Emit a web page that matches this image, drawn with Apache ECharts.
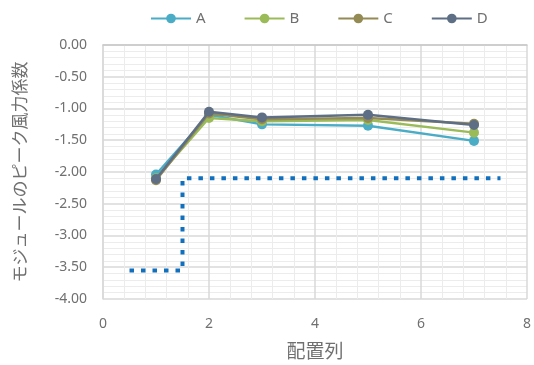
<!DOCTYPE html>
<html><head><meta charset="utf-8">
<script src="https://cdn.jsdelivr.net/npm/echarts@6/dist/echarts.min.js"></script>
<style>html,body{margin:0;padding:0;background:#fff}#c{width:534px;height:365px}</style>
</head><body><div id="c"></div>
<script>
var xPositions = [1, 2, 3, 5, 7];
var seriesNames = ['A', 'B', 'C', 'D'];
var valuesA = [-2.04, -1.10, -1.25, -1.27, -1.51];
var valuesB = [-2.10, -1.15, -1.20, -1.18, -1.38];
var valuesC = [-2.13, -1.08, -1.17, -1.15, -1.24];
var valuesD = [-2.11, -1.05, -1.14, -1.10, -1.26];
var refX = [0.5, 1.5, 1.5, 7.5];
var refY = [-3.55, -3.55, -2.1, -2.1];
var colors = ['#4BACC6', '#9BBB59', '#948A54', '#5E6E85'];
var yTicks = [0, -0.5, -1, -1.5, -2, -2.5, -3, -3.5, -4];

function pairs(xs, ys) { return xs.map(function (x, i) { return [x, ys[i]]; }); }
var allVals = [valuesA, valuesB, valuesC, valuesD];
var textColor = '#707070';
var series = seriesNames.map(function (n, i) {
  return {
    name: n, type: 'line', data: pairs(xPositions, allVals[i]),
    symbol: 'circle', symbolSize: 10,
    lineStyle: { width: 2.5, color: colors[i] },
    itemStyle: { color: colors[i] }, z: 3 + i
  };
});
series.unshift({
  name: 'ref', type: 'line', data: pairs(refX, refY), symbol: 'none',
  lineStyle: { width: 4, color: '#1070BE', type: [4.5, 7], cap: 'butt' }, z: 2,
  silent: true
});
var chart = echarts.init(document.getElementById('c'));
chart.setOption({
  animation: false,
  color: colors,
  legend: {
    data: seriesNames, top: 6, left: 145, itemWidth: 40, itemHeight: 12, itemGap: 38,
    textStyle: { color: textColor, fontSize: 15, fontFamily: 'Noto Sans' }
  },
  grid: { left: 103, right: 3, top: 45, bottom: 61, containLabel: false },
  xAxis: {
    type: 'value', min: 0, max: 8, interval: 2,
    name: '配置列', nameLocation: 'middle', nameGap: 42,
    nameTextStyle: { color: textColor, fontSize: 19, fontFamily: 'Noto Sans CJK JP' },
    axisLine: { show: true, lineStyle: { color: '#c8c8c8', width: 1.5 } },
    axisTick: { show: false },
    axisLabel: { color: textColor, fontSize: 14, margin: 18, fontFamily: 'Noto Sans' },
    splitLine: { show: true, lineStyle: { color: '#d9d9d9', width: 1.5 } },
    minorTick: { show: false, splitNumber: 5 },
    minorSplitLine: { show: true, lineStyle: { color: '#ececec', width: 1 } }
  },
  yAxis: {
    type: 'value', min: -4, max: 0, interval: 0.5,
    name: 'モジュールのピーク風力係数', nameLocation: 'middle', nameGap: 75, nameRotate: 90,
    nameTextStyle: { color: textColor, fontSize: 17, fontFamily: 'Noto Sans CJK JP' },
    axisLine: { show: true, lineStyle: { color: '#d9d9d9', width: 1.5 } },
    axisTick: { show: false },
    axisLabel: { color: textColor, fontSize: 14, margin: 16, fontFamily: 'Noto Sans',
      formatter: function (v) { return v.toFixed(2); } },
    splitLine: { show: true, lineStyle: { color: '#d9d9d9', width: 1.5 } },
    minorTick: { show: false, splitNumber: 5 },
    minorSplitLine: { show: true, lineStyle: { color: '#ececec', width: 1 } }
  },
  series: series
});
</script></body></html>
